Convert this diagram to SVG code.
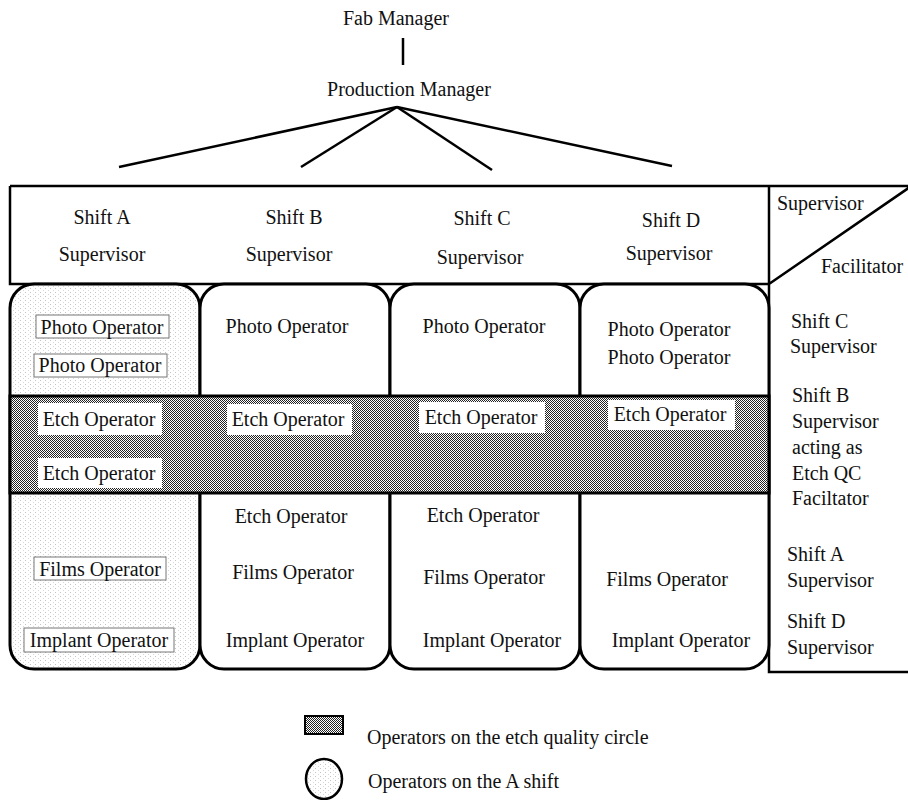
<svg xmlns="http://www.w3.org/2000/svg" width="908" height="800" viewBox="0 0 908 800">
<defs>
<pattern id="hatch" width="2" height="2" patternUnits="userSpaceOnUse">
<rect width="2" height="2" fill="#ffffff"/>
<rect x="0" y="0" width="1" height="1" fill="#222"/>
<rect x="1" y="1" width="1" height="1" fill="#222"/>
</pattern>
<pattern id="dots" width="5" height="4" patternUnits="userSpaceOnUse">
<rect width="5" height="4" fill="#ffffff"/>
<rect x="0" y="0" width="1" height="1" fill="#c4c4c4"/>
<rect x="3" y="2" width="1" height="1" fill="#d8d8d8"/>
</pattern>
<style>
text{font-family:"Liberation Serif","Times New Roman",serif;font-size:20px;fill:#111}
.c{text-anchor:middle}
.ln{stroke:#000;stroke-width:2.5;fill:none}
.col{stroke:#000;stroke-width:3}
.lab{fill:#fff;stroke:#777;stroke-width:1}
.wb{fill:#fff}
</style>
</defs>
<rect width="908" height="800" fill="#fff"/>

<g id="fab-manager"><text class="c" x="396" y="25">Fab Manager</text></g>
<g id="production-manager"><text class="c" x="409" y="96">Production Manager</text></g>

<g id="connectors">
<line class="ln" x1="403" y1="38" x2="403" y2="65"/>
<line class="ln" x1="397" y1="107" x2="119" y2="167"/>
<line class="ln" x1="397" y1="107" x2="301" y2="167"/>
<line class="ln" x1="397" y1="107" x2="492" y2="170"/>
<line class="ln" x1="397" y1="107" x2="672" y2="166"/>
</g>

<g id="header">
<path class="ln" d="M10,186 H908 M10,186 V284 H769 M769,186 V672 H908 M769,284 L910,187"/>
<text class="c" x="102" y="224">Shift A</text>
<text class="c" x="102" y="261">Supervisor</text>
<text class="c" x="294" y="224">Shift B</text>
<text class="c" x="289" y="261">Supervisor</text>
<text class="c" x="482" y="225">Shift C</text>
<text class="c" x="480" y="264">Supervisor</text>
<text class="c" x="671" y="227">Shift D</text>
<text class="c" x="669" y="260">Supervisor</text>
<text x="777" y="210">Supervisor</text>
<text x="821" y="273">Facilitator</text>
</g>

<g id="shift-a">
<rect class="col" x="10" y="284" width="190" height="385" rx="24" fill="url(#dots)"/>
<rect class="lab" x="36" y="315" width="133" height="23"/>
<text class="c" x="102" y="334">Photo Operator</text>
<rect class="lab" x="34" y="354" width="133" height="23"/>
<text class="c" x="100" y="372">Photo Operator</text>
<rect class="lab" x="34" y="557" width="132" height="23"/>
<text class="c" x="100" y="576">Films Operator</text>
<rect class="lab" x="24" y="628" width="150" height="24"/>
<text class="c" x="99" y="647">Implant Operator</text>
</g>

<g id="shift-b">
<rect class="col" x="200" y="284" width="190" height="385" rx="24" fill="#fff"/>
<text class="c" x="287" y="333">Photo Operator</text>
<text class="c" x="291" y="523">Etch Operator</text>
<text class="c" x="293" y="579">Films Operator</text>
<text class="c" x="295" y="647">Implant Operator</text>
</g>

<g id="shift-c">
<rect class="col" x="390" y="284" width="190" height="385" rx="24" fill="#fff"/>
<text class="c" x="484" y="333">Photo Operator</text>
<text class="c" x="483" y="522">Etch Operator</text>
<text class="c" x="484" y="584">Films Operator</text>
<text class="c" x="492" y="647">Implant Operator</text>
</g>

<g id="shift-d">
<rect class="col" x="580" y="284" width="189" height="385" rx="24" fill="#fff"/>
<text class="c" x="669" y="336">Photo Operator</text>
<text class="c" x="669" y="364">Photo Operator</text>
<text class="c" x="667" y="586">Films Operator</text>
<text class="c" x="681" y="647">Implant Operator</text>
</g>

<g id="etch-circle">
<rect x="10" y="396" width="759" height="97" fill="url(#hatch)" stroke="#000" stroke-width="3"/>
<rect class="wb" x="38" y="403" width="124" height="32"/>
<text class="c" x="99" y="426">Etch Operator</text>
<rect class="wb" x="38" y="458" width="124" height="30"/>
<text class="c" x="99" y="480">Etch Operator</text>
<rect class="wb" x="227" y="404" width="125" height="31"/>
<text class="c" x="288" y="426">Etch Operator</text>
<rect class="wb" x="419" y="402" width="126" height="31"/>
<text class="c" x="481" y="424">Etch Operator</text>
<rect class="wb" x="608" y="400" width="127" height="30"/>
<text class="c" x="670" y="421">Etch Operator</text>
</g>

<g id="facilitators">
<text x="791" y="328">Shift C</text>
<text x="790" y="353">Supervisor</text>
<text x="792" y="402">Shift B</text>
<text x="792" y="428">Supervisor</text>
<text x="792" y="454">acting as</text>
<text x="792" y="480">Etch QC</text>
<text x="792" y="505">Faciltator</text>
<text x="787" y="561">Shift A</text>
<text x="787" y="587">Supervisor</text>
<text x="787" y="628">Shift D</text>
<text x="787" y="654">Supervisor</text>
</g>

<g id="legend">
<rect x="305" y="716" width="38" height="18" fill="url(#hatch)" stroke="#000" stroke-width="2"/>
<text x="367" y="744">Operators on the etch quality circle</text>
<ellipse cx="324" cy="779" rx="18" ry="20" fill="url(#dots)" stroke="#000" stroke-width="2.5"/>
<text x="368" y="788">Operators on the A shift</text>
</g>
</svg>
